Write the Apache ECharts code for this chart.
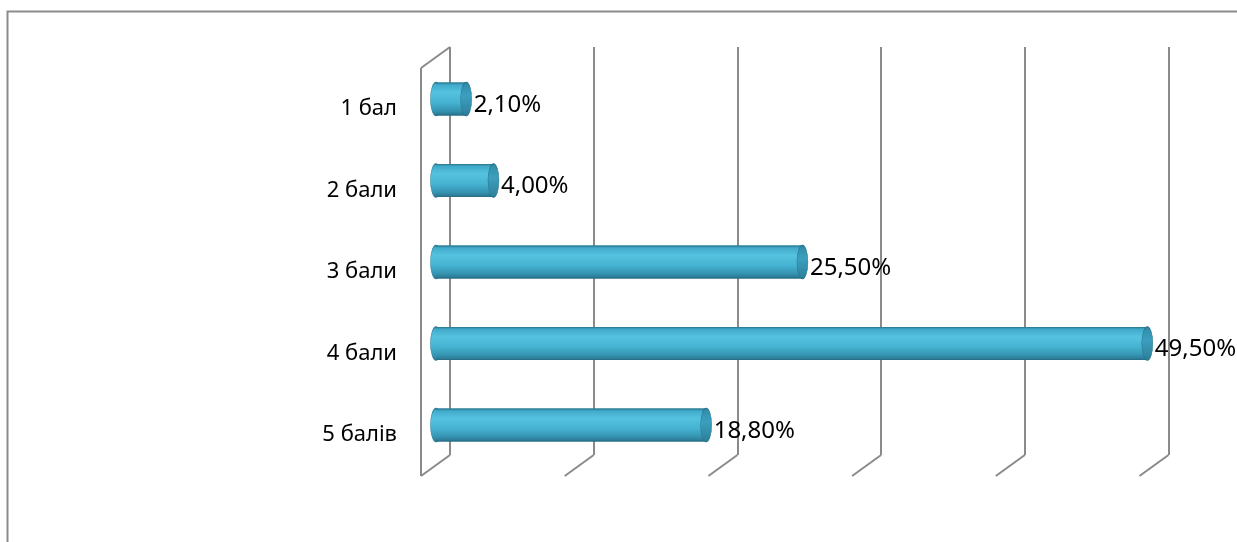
<!DOCTYPE html>
<html>
<head>
<meta charset="utf-8">
<script src="https://cdn.jsdelivr.net/npm/echarts@6/dist/echarts.min.js"></script>
<style>
html,body{margin:0;padding:0;background:#fff;}
#chart{width:1237px;height:542px;}
</style>
</head>
<body>
<div id="chart"></div>
<script>
const categories = ['1 бал', '2 бали', '3 бали', '4 бали', '5 балів'];
const values = [2.1, 4.0, 25.5, 49.5, 18.8];
const valueLabels = ['2,10%', '4,00%', '25,50%', '49,50%', '18,80%'];
const axisTicks = [0, 10, 20, 30, 40, 50];

const FONT = '"Noto Sans", "Open Sans", sans-serif';
const DEPTH_X = -29, DEPTH_Y = 21;
const LINE = '#8a8a8a';

const chart = echarts.init(document.getElementById('chart'), null, {renderer: 'canvas'});

const bodyGrad = new echarts.graphic.LinearGradient(0, 0, 0, 1, [
  {offset: 0, color: '#2e83a0'},
  {offset: 0.08, color: '#42abcb'},
  {offset: 0.3, color: '#55c2e0'},
  {offset: 0.6, color: '#46b3d2'},
  {offset: 0.85, color: '#3594b2'},
  {offset: 1, color: '#29738c'}
]);
const capGrad = new echarts.graphic.LinearGradient(0, 0, 0, 1, [
  {offset: 0, color: '#2f8aa6'},
  {offset: 0.4, color: '#3c9fbf'},
  {offset: 1, color: '#2d7e98'}
]);

chart.setOption({
  animation: false,
  graphic: [{
    type: 'rect', left: 5, top: 9,
    shape: {width: 1260, height: 560},
    style: {fill: 'none', stroke: '#8c8c8c', lineWidth: 2},
    z: 0
  }],
  grid: [
    {left: 436, right: 82.5, top: 58.25, bottom: 76.25},
    {left: 450, right: 68.5, top: 47, bottom: 87}
  ],
  xAxis: [
    {gridIndex: 0, type: 'value', min: 0, max: 50, interval: 10, show: false},
    {gridIndex: 1, type: 'value', min: 0, max: 50, interval: 10,
     axisLine: {show: false}, axisTick: {show: false}, axisLabel: {show: false},
     splitLine: {show: true, lineStyle: {color: LINE, width: 2}}}
  ],
  yAxis: [
    {gridIndex: 0, type: 'category', inverse: true, data: categories,
     axisLine: {show: false}, axisTick: {show: false}, splitLine: {show: false},
     axisLabel: {fontSize: 22, color: '#000', fontFamily: FONT, margin: 39,
                 verticalAlign: 'top', lineHeight: 20}},
    {gridIndex: 1, type: 'value', min: 0, max: 1, show: false}
  ],
  series: [
    {
      type: 'custom', xAxisIndex: 1, yAxisIndex: 1, z: 1,
      data: axisTicks.map(v => [v]),
      renderItem: function (params, api) {
        const v = api.value(0);
        const b = api.coord([v, 0]);
        const children = [{
          type: 'line',
          shape: {x1: b[0], y1: b[1], x2: b[0] + DEPTH_X, y2: b[1] + DEPTH_Y},
          style: {stroke: LINE, lineWidth: 2}
        }];
        if (params.dataIndex === 0) {
          const t = api.coord([v, 1]);
          children.push({
            type: 'line',
            shape: {x1: t[0], y1: t[1], x2: t[0] + DEPTH_X, y2: t[1] + DEPTH_Y},
            style: {stroke: LINE, lineWidth: 2}
          });
          children.push({
            type: 'line',
            shape: {x1: t[0] + DEPTH_X, y1: t[1] + DEPTH_Y, x2: b[0] + DEPTH_X, y2: b[1] + DEPTH_Y},
            style: {stroke: LINE, lineWidth: 2}
          });
        }
        return {type: 'group', children: children};
      }
    },
    {
      type: 'custom', xAxisIndex: 0, yAxisIndex: 0, z: 5,
      data: values.map((v, i) => [v, i]),
      encode: {x: 0, y: 1},
      renderItem: function (params, api) {
        const i = api.value(1);
        const s = api.coord([0, i]);
        const e = api.coord([api.value(0), i]);
        const h = 33, rx = 5.5, r = h / 2;
        const cy = s[1];
        return {
          type: 'group',
          children: [
            {type: 'circle', x: s[0], y: cy, scaleX: rx / r,
             shape: {cx: 0, cy: 0, r: r},
             style: {fill: bodyGrad, stroke: '#2e7f98', lineWidth: 1.5}},
            {type: 'rect', shape: {x: s[0], y: cy - r, width: e[0] - s[0], height: h},
             style: {fill: bodyGrad}},
            {type: 'line', shape: {x1: s[0], y1: cy - r + 0.5, x2: e[0], y2: cy - r + 0.5},
             style: {stroke: '#2e7f98', lineWidth: 1}},
            {type: 'line', shape: {x1: s[0], y1: cy + r - 0.5, x2: e[0], y2: cy + r - 0.5},
             style: {stroke: '#2a7088', lineWidth: 1}},
            {type: 'circle', x: e[0], y: cy, scaleX: rx / r,
             shape: {cx: 0, cy: 0, r: r},
             style: {fill: capGrad, stroke: '#2a7690', lineWidth: 1.5}},
            {type: 'text', x: e[0] + rx + 2, y: cy + 6,
             style: {text: valueLabels[params.dataIndex], fill: '#000', fontSize: 24,
                     fontFamily: FONT, align: 'left', verticalAlign: 'middle'}}
          ]
        };
      }
    }
  ]
});
</script>
</body>
</html>
